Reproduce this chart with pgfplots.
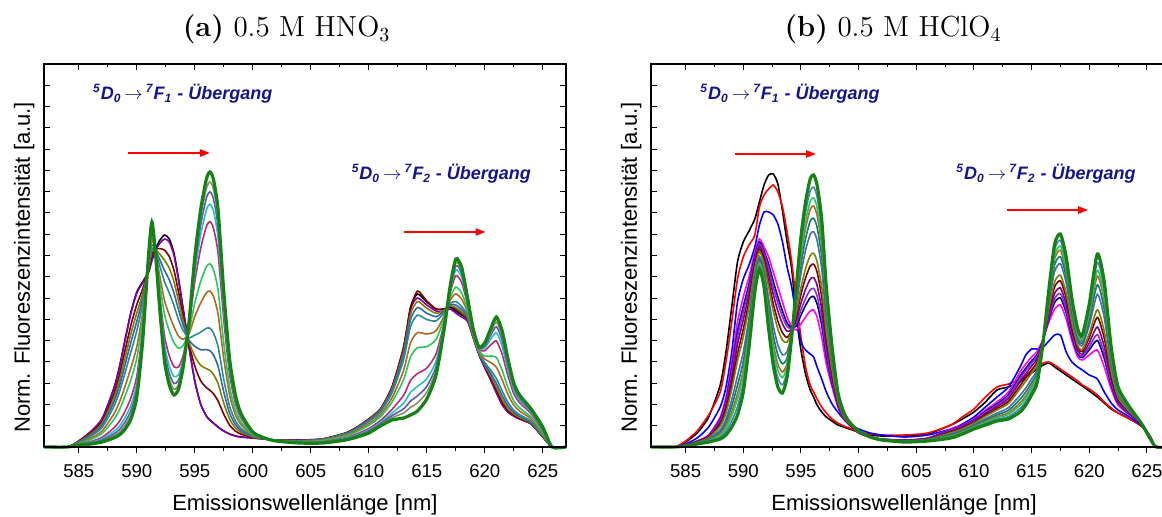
\documentclass[border=0pt]{standalone}
\usepackage{fontspec}
\usepackage{pgfplots}
\usepackage{pgfplotstable}
\pgfplotsset{compat=1.18}
\usetikzlibrary{arrows.meta}
\newfontfamily\arial{Liberation Sans}

\definecolor{wine}{RGB}{128,0,0}
\definecolor{olv}{RGB}{128,128,0}
\definecolor{steel}{RGB}{51,102,170}
\definecolor{tealc}{RGB}{40,140,150}
\definecolor{brownc}{RGB}{175,105,35}
\definecolor{lgreen}{RGB}{40,200,90}
\definecolor{mvr}{RGB}{190,40,120}
\definecolor{cyanc}{RGB}{40,190,200}
\definecolor{slate}{RGB}{90,90,180}
\definecolor{grayol}{RGB}{140,140,110}
\definecolor{fgreen}{RGB}{20,130,20}
\definecolor{lpurple}{RGB}{128,0,170}
\definecolor{rred}{RGB}{255,0,0}
\definecolor{rblue}{RGB}{0,0,255}
\definecolor{rmag}{RGB}{255,0,255}
\definecolor{rnavy}{RGB}{0,0,128}
\definecolor{rviolet}{RGB}{138,43,226}
\definecolor{rpurple}{RGB}{128,0,128}
\definecolor{rsteel}{RGB}{70,110,170}
\definecolor{rteal}{RGB}{0,128,128}
\definecolor{rslate}{RGB}{70,130,180}
\definecolor{annot}{RGB}{20,20,140}

% left panel: x, initial (A), purple, mixtures ..., final (B)
\pgfplotstableread{
x A P r o s t b g m c v y B
582 0 0 0 0 0 0 0 0 0 0 0 0 0
584 0 0 0 0 0 0 0 0 0 0 0 0 0
585 6 6 5.5 5.2 4.9 4.5 3.9 3.5 2.8 2.5 2.3 2.2 2
586 15 15 13.6 12.6 11.6 10.6 8.8 7.4 5.4 4.6 4.0 3.5 3
587 28 28 25.2 23.4 21.6 19.5 16.0 13.5 9.6 8.0 6.8 5.9 5
588 58 57 52.1 48.2 44.3 39.9 32.5 27.1 18.8 15.4 12.9 11.0 9
588.5 80 79 71.8 66.4 61.0 54.8 44.6 37.2 25.6 20.8 17.4 14.7 12
589 108 107 97.2 90 82.8 74.7 61.2 51.3 36 29.7 25.2 21.6 18
589.5 135 134 122.2 113.6 105.0 95.4 79.4 67.6 49.4 41.9 36.6 32.3 28
590 155 154 142.4 134 125.6 116.2 100.4 88.9 71 63.7 58.4 54.2 50
590.5 165 164 157.8 153 148.2 142.8 133.8 127.2 117 112.8 109.8 107.4 105
591 175 174 176.8 178 179.2 180.6 182.8 184.5 187 188.1 188.8 189.4 190
591.3 188 186 192.4 195.4 198.4 201.7 207.2 211.3 217.6 220.2 222.0 223.5 225
591.6 198 196 197.6 197.4 197.2 196.9 196.4 196.1 195.6 195.4 195.2 195.1 195
592 207 204 198.4 192.6 186.8 180.4 169.6 161.6 149.4 144.4 140.8 137.9 135
592.4 212 208 196.8 186.6 176.4 165.0 146.0 132.0 110.4 101.5 95.2 90.1 85
592.8 208 205 190.5 178.8 167.1 154.0 132.1 116.0 91.2 81.0 73.7 67.8 62
593.2 194 192 177.0 165.6 154.2 141.5 120.2 104.5 80.4 70.5 63.4 57.7 52
593.6 168 167 154.8 146 137.2 127.3 110.8 98.7 80 72.3 66.8 62.4 58
594 138 137 131.0 126.4 121.8 116.5 107.8 101.5 91.6 87.5 84.6 82.3 80
594.5 100 100 103 105 107 109.3 113 115.8 120 121.8 123 124 125
595 66 66 80.9 90.8 100.7 111.9 130.5 144.1 165.2 173.9 180.1 185.0 190
595.5 43 43 66.3 81.8 97.3 114.8 143.9 165.2 198.2 211.8 221.5 229.2 237
596 31 31 59.4 78.4 97.4 118.7 154.2 180.3 220.6 237.2 249.0 258.5 268
596.3 27 27 56.8 76.6 96.4 118.8 156.0 183.2 225.4 242.8 255.2 265.1 275
596.6 24 24 53.3 72.8 92.3 114.3 150.9 177.7 219.2 236.3 248.5 258.2 268
597 20 20 46.2 63.6 81.0 100.7 133.4 157.3 194.4 209.7 220.6 229.3 238
597.5 16 16 32.7 43.8 54.9 67.4 88.3 103.6 127.2 136.9 143.9 149.4 155
598 13 13 22 28 34 40.8 52 60.3 73 78.3 82 85 88
598.5 11 11 15.9 19.2 22.5 26.2 32.3 36.8 43.8 46.7 48.7 50.4 52
599 10 10 12.8 14.6 16.4 18.5 22.0 24.5 28.4 30.0 31.2 32.1 33
600 9 9 9.7 10.2 10.7 11.2 12.1 12.8 13.8 14.2 14.5 14.8 15
601 8 8 8.1 8.2 8.3 8.4 8.5 8.6 8.8 8.9 8.9 9 9
602 7 7 6.9 6.8 6.7 6.6 6.5 6.4 6.2 6.1 6.1 6.0 6
604 7 7 6.6 6.4 6.2 5.9 5.4 5.1 4.6 4.4 4.2 4.1 4
606 8 8 7.9 7.7 7.5 7.3 6.7 6.2 5.3 4.8 4.5 4.3 4
608 14 14 13.8 13.5 13.2 12.7 11.7 10.8 9.2 8.5 7.9 7.5 7
609 20 20 19.7 19.4 18.9 18.2 16.7 15.4 13.2 12.1 11.3 10.7 10
610 28 28 27.6 27.1 26.4 25.5 23.4 21.6 18.5 16.9 15.8 15.0 14
611 38 38 37.5 36.9 36.0 34.9 32.4 30.2 26.4 24.6 23.2 22.2 21
612 60 60 59.0 57.9 56.2 54.1 49.1 44.8 37.6 33.9 31.3 29.3 27
613 100 99 97.9 95.4 91.8 87.2 76.6 67.3 51.7 43.9 38.2 34.0 29
613.6 140 138 138 133.0 127.6 120.6 104.4 90.3 66.6 54.7 46.0 39.6 32
614.2 153 149 156 145.4 139.5 131.9 114.4 99.2 73.4 60.6 51.2 44.2 36
615 145 142 146 138.7 133.8 127.5 113.0 100.4 79.0 68.4 60.6 54.8 48
615.8 138 136 138 133.7 130.4 126.1 116.2 107.6 93.1 85.9 80.6 76.6 72
616.5 138 136 138 136.7 135.7 134.4 131.4 128.8 124.4 122.2 120.6 119.4 118
617 140 138 141 141.3 142.3 143.6 146.6 149.2 153.6 155.8 157.4 158.6 160
617.5 136 134 138 139.4 142.0 145.4 153.2 159.9 171.4 177.1 181.2 184.4 188
618 132 130 133.4 135.1 137.5 140.6 147.8 154.1 164.6 169.9 173.8 176.6 180
618.5 128 126 128.7 129.4 130.5 132.0 135.3 138.1 143.0 145.4 147.1 148.5 150
619 110 109 110.2 110.5 110.9 111.4 112.6 113.7 115.4 116.3 117.0 117.4 118
619.5 93 92 93.2 93.5 93.8 94.3 95.3 96.2 97.8 98.5 99.1 99.5 100
620 80 79 80.7 81.6 82.8 84.3 87.9 91.0 96.3 99.0 100.9 102.3 104
620.5 68 67 69.5 71.3 73.8 77.0 84.5 91.0 102.0 107.5 111.5 114.5 118
621 55 54 57.3 59.9 63.6 68.5 79.8 89.5 106.0 114.3 120.3 124.8 130
621.5 43 42 45.2 47.7 51.4 56.1 67.1 76.6 92.6 100.7 106.5 110.9 116
622 35 35 36.6 38.4 41.1 44.5 52.5 59.4 71.0 76.9 81.1 84.3 88
622.5 31 31 32.0 33.1 34.8 36.9 41.9 46.2 53.4 57.1 59.7 61.7 64
623 28 28 28.7 29.6 30.8 32.3 35.9 39.0 44.3 47.0 48.9 50.3 52
624 23 23 23.5 24.0 24.7 25.7 28.0 29.9 33.2 34.9 36.1 37.0 38
625 10 10 10.3 10.7 11.2 11.8 13.3 14.6 16.8 17.9 18.7 19.3 20
625.8 0 0 0 0 0 0 0 0 0 0 0 0 0
627 0 0 0 0 0 0 0 0 0 0 0 0 0
}\tableL

% right panel
\pgfplotstableread{
x K R Bl M n vi p dr ol sb te br lg sl G
582 0 0 0 0 0 0 0 0 0 0 0 0 0 0 0
584 0 0 0 0 0 0 0 0 0 0 0 0 0 0 0
585 5 6 3 2 1.9 1.8 1.8 1.7 1.6 1.4 1.3 1.2 1.2 1.1 1
586 14 16 9 6 5.7 5.5 5.3 5.0 4.7 4.3 4.0 3.7 3.5 3.3 3
587 30 32 20 12 11.3 10.9 10.3 9.6 9.1 7.9 7.2 6.6 6.2 5.6 5
588 62 55 40 30 27.8 26.5 24.7 22.5 20.8 17.2 15.0 13.1 11.7 10.0 8
588.5 95 85 60 50 46.2 43.9 40.9 37.1 34.0 28.0 24.2 20.7 18.5 15.4 12
589 140 125 95 85 78.5 74.6 69.4 62.9 57.7 47.3 40.8 35.0 31.1 25.9 20
589.5 185 168 145 125 115.7 110.1 102.7 93.4 85.9 71.1 61.8 53.4 47.8 40.4 32
590 205 190 168 150 140.5 134.8 127.2 117.7 110.1 94.9 85.4 76.9 71.2 63.6 55
590.5 216 202 182 170 163 158.8 153.2 146.2 140.6 129.4 122.4 116.1 111.9 106.3 100
591 228 212 200 195 191 188.6 185.4 181.4 178.2 171.8 167.8 164.2 161.8 158.6 155
591.4 245 240 222 208 205 203.2 200.8 197.8 195.4 190.6 187.6 184.9 183.1 180.7 178
591.8 262 252 235 200 196 193.6 190.4 186.4 183.2 176.8 172.8 169.2 166.8 163.6 160
592.2 272 258 235 190 182.8 178.5 172.7 165.5 159.8 148.2 141.0 134.6 130.2 124.5 118
592.6 273 262 232 175 165.7 160.1 152.7 143.4 135.9 121.1 111.8 103.4 97.8 90.4 82
593 263 255 223 160 150 144 136 126 118 102 92 83 77 69 60
593.4 236 240 205 145 135.9 130.4 123.2 114.1 106.8 92.2 83.1 74.9 69.5 62.2 54
593.8 205 215 180 130 124 120.4 115.6 109.6 104.8 95.2 89.2 83.8 80.2 75.4 70
594.2 178 185 160 120 119 118.4 117.6 116.6 115.8 114.2 113.2 112.3 111.7 110.9 110
594.6 130 145 130 117 121.3 123.9 127.3 131.6 135.1 141.9 146.2 150.1 152.7 156.1 160
595 97 110 105 123 131.7 136.9 143.9 152.6 159.5 173.5 182.2 190.0 195.2 202.2 210
595.4 73 80 97 130 141.5 148.4 157.6 169.1 178.3 196.7 208.2 218.6 225.5 234.7 245
595.8 57 62 93 136 149.2 157.1 167.7 180.9 191.4 212.6 225.8 237.6 245.6 256.1 268
596.1 50 55 90 137 150.5 158.6 169.4 182.9 193.7 215.3 228.8 241.0 249.1 259.9 272
596.4 42 48 80 130 143.2 151.1 161.7 174.9 185.4 206.6 219.8 231.6 239.6 250.1 262
596.8 35 40 68 110 121.8 128.9 138.3 150.1 159.6 178.4 190.2 200.9 207.9 217.4 228
597.2 30 34 55 83 90.7 95.3 101.5 109.2 115.3 127.7 135.4 142.3 146.9 153.1 160
597.7 26 28 43 60 64 66.4 69.6 73.6 76.8 83.2 87.2 90.8 93.2 96.4 100
598.2 22 24 35 40 41.5 42.4 43.6 45.1 46.3 48.7 50.2 51.6 52.5 53.7 55
598.7 20 21 28 28 28.7 29.1 29.7 30.4 30.9 32.1 32.8 33.4 33.8 34.4 35
599.2 18 19 23 22 22.3 22.5 22.7 23.0 23.3 23.7 24.0 24.3 24.5 24.7 25
600 15 15 18 14 14.2 14.3 14.5 14.7 14.8 15.2 15.4 15.5 15.7 15.8 16
601 12 13 14 10 10 10 10 10 10 10 10 10 10 10 10
602 11 12 12 8 7.9 7.8 7.8 7.7 7.6 7.4 7.3 7.2 7.2 7.1 7
604 11 12 10 7 6.8 6.7 6.5 6.3 6.2 5.8 5.6 5.5 5.3 5.2 5
606 13 14 12 9 8.7 8.5 8.3 8.0 7.7 7.3 7.0 6.7 6.5 6.3 6
608 22 22 18 18 17.1 16.6 15.8 14.9 14.2 12.8 11.9 11.1 10.5 9.8 9
609 28 30 23 22 21.1 20.6 19.8 18.9 18.2 16.8 15.9 15.1 14.5 13.8 13
610 35 38 30 28 27 26.4 25.6 24.6 23.8 22.2 21.2 20.3 19.7 18.9 18
611 45 50 40 37 35.5 34.6 33.4 31.9 30.7 28.3 26.8 25.5 24.6 23.4 22
612 57 60 50 45 43.1 42.0 40.4 38.5 37.0 34.0 32.1 30.4 29.2 27.7 26
613 60 63 60 55 52.3 50.7 48.5 45.8 43.7 39.3 36.6 34.2 32.6 30.4 28
614 65 68 80 75 71 68.6 65.4 61.4 58.2 51.8 47.8 44.2 41.8 38.6 35
614.5 70 72 92 83 78.9 76.4 73.2 69.1 65.8 59.2 55.1 51.4 49.0 45.7 42
615 74 76 98 90 86.2 83.9 80.9 77.1 74.0 68.0 64.2 60.7 58.5 55.4 52
615.5 78 80 98 96 92.9 91.0 88.6 85.5 83.0 78.0 74.9 72.1 70.3 67.8 65
616 82 84 100 108 107.7 107.5 107.3 107.0 106.7 106.3 106.0 105.7 105.5 105.3 105
616.5 84 85 106 125 128.3 130.3 132.9 136.2 138.9 144.1 147.4 150.4 152.4 155.0 158
617 80 82 112 138 144.5 148.4 153.6 160.1 165.3 175.7 182.2 188.1 191.9 197.2 203
617.5 76 78 112 142 149.1 153.4 159.0 166.1 171.8 183.2 190.3 196.7 200.9 206.6 213
618 72 74 95 128 134.2 137.9 142.9 149.1 154.0 164.0 170.2 175.7 179.5 184.4 190
618.5 68 70 85 106 110.2 112.7 116.1 120.3 123.6 130.4 134.6 138.3 140.9 144.2 148
619 64 66 80 90 92.8 94.5 96.7 99.5 101.8 106.2 109.0 111.6 113.2 115.5 118
619.4 61 62 77 87 89.5 91.0 93.0 95.5 97.5 101.5 104.0 106.3 107.8 109.8 112
620 56 58 72 92 97.1 100.2 104.2 109.3 113.4 121.6 126.7 131.3 134.3 138.4 143
620.7 50 52 68 97 106.6 112.4 120.0 129.6 137.3 152.7 162.3 170.9 176.7 184.4 193
621.3 44 45 55 80 88.5 93.6 100.4 108.9 115.7 129.3 137.8 145.5 150.6 157.4 165
621.9 38 39 44 58 62.2 64.7 68.1 72.3 75.6 82.4 86.6 90.3 92.9 96.2 100
622.5 34 34 37 42 43.8 44.9 46.3 48.1 49.6 52.4 54.2 55.9 56.9 58.4 60
623.5 28 28 30 32 32.8 33.3 33.9 34.7 35.4 36.6 37.4 38.2 38.6 39.3 40
624.5 21 21 22 24 24 24 24 24 24 24 24 24 24 24 24
625.3 10 10 10 10 9.8 9.7 9.5 9.3 9.2 8.8 8.6 8.5 8.3 8.2 8
625.8 0 0 0 0 0 0 0 0 0 0 0 0 0 0 0
627 0 0 0 0 0 0 0 0 0 0 0 0 0 0 0
}\tableR

\pgfplotsset{
  mainax/.style={
    anchor=south west, scale only axis, height=191.5pt,
    xmin=582, xmax=627, ymin=0, ymax=383, clip=false,
    axis line style={line width=0.75pt},
    tick align=inside, xtick={585,590,...,625}, minor x tick num=1,
    xtick pos=right, xticklabels={},
    ytick={0,21.2777,...,383}, yticklabels={}, ytick pos=both,
    major tick length=2.8pt, minor tick length=1.6pt,
    every tick/.style={black, line width=0.5pt},
    ylabel={Norm. Fluoreszenzintensität [a.u.]},
    ylabel style={font=\arial\fontsize{11}{13}\selectfont,
      at={(axis description cs:-0.027,0.469)}, anchor=base},
  },
  overax/.style={
    anchor=south west, scale only axis, height=191.5pt,
    xmin=582, xmax=627, ymin=0, ymax=383,
    axis x line*=bottom, axis y line=none,
    axis line style={line width=0.75pt},
    tick align=outside, xtick={585,590,...,625}, minor x tick num=1,
    major tick length=3pt, minor tick length=1.8pt,
    every tick/.style={black, line width=0.5pt},
    /pgf/number format/assume math mode=true,
    xticklabel style={font=\arial\fontsize{9.3}{11}\selectfont, yshift=-2pt},
    xlabel={Emissionswellenlänge [nm]},
    xlabel style={font=\arial\fontsize{11}{13}\selectfont,
      at={(axis description cs:0.5,0)}, anchor=base, yshift=-31.5pt},
  },
  cv/.style={line width=0.8pt, smooth, tension=0.4},
}
\tikzset{
  annotf/.style={anchor=base west, inner sep=0pt, text=annot,
    font=\arial\bfseries\itshape\fontsize{9}{11}\selectfont},
  redarrow/.style={draw=rred, line width=0.9pt, -{Triangle[length=5pt,width=3.6pt]}},
}
\newcommand{\trans}[1]{\textsuperscript{5}D\textsubscript{0}\,$\rightarrow$\,\textsuperscript{7}F\textsubscript{#1} - Übergang}

\begin{document}
\begin{tikzpicture}
% ---------- panel (a)
\begin{axis}[mainax, at={(22pt,34.5pt)}, width=261pt]
\addplot[cv, draw=black] table[x=x,y=A]{\tableL};
\addplot[cv, draw=lpurple] table[x=x,y=P]{\tableL};
\addplot[cv, draw=wine] table[x=x,y=r]{\tableL};
\addplot[cv, draw=olv] table[x=x,y=o]{\tableL};
\addplot[cv, draw=steel] table[x=x,y=s]{\tableL};
\addplot[cv, draw=tealc] table[x=x,y=t]{\tableL};
\addplot[cv, draw=brownc] table[x=x,y=b]{\tableL};
\addplot[cv, draw=lgreen] table[x=x,y=g]{\tableL};
\addplot[cv, draw=mvr] table[x=x,y=m]{\tableL};
\addplot[cv, draw=cyanc] table[x=x,y=c]{\tableL};
\addplot[cv, draw=slate] table[x=x,y=v]{\tableL};
\addplot[cv, draw=grayol] table[x=x,y=y]{\tableL};
\addplot[cv, draw=fgreen, line width=1.6pt] table[x=x,y=B]{\tableL};
\node[annotf] at (axis cs:586.2,347) {\trans{1}};
\node[annotf] at (axis cs:608.5,267) {\trans{2}};
\draw[redarrow] (axis cs:589.27,294) -- (axis cs:596.31,294);
\draw[redarrow] (axis cs:613.05,215) -- (axis cs:620.07,215);
\end{axis}
\begin{axis}[overax, at={(22pt,34.5pt)}, width=261pt]
\end{axis}
% ---------- panel (b)
\begin{axis}[mainax, at={(325.5pt,34.5pt)}, width=259.5pt]
\addplot[cv, draw=black] table[x=x,y=K]{\tableR};
\addplot[cv, draw=rred] table[x=x,y=R]{\tableR};
\addplot[cv, draw=rblue] table[x=x,y=Bl]{\tableR};
\addplot[cv, draw=rmag] table[x=x,y=M]{\tableR};
\addplot[cv, draw=rnavy] table[x=x,y=n]{\tableR};
\addplot[cv, draw=rviolet] table[x=x,y=vi]{\tableR};
\addplot[cv, draw=rpurple] table[x=x,y=p]{\tableR};
\addplot[cv, draw=wine] table[x=x,y=dr]{\tableR};
\addplot[cv, draw=olv] table[x=x,y=ol]{\tableR};
\addplot[cv, draw=rsteel] table[x=x,y=sb]{\tableR};
\addplot[cv, draw=rteal] table[x=x,y=te]{\tableR};
\addplot[cv, draw=brownc] table[x=x,y=br]{\tableR};
\addplot[cv, draw=lgreen] table[x=x,y=lg]{\tableR};
\addplot[cv, draw=rslate] table[x=x,y=sl]{\tableR};
\addplot[cv, draw=fgreen, line width=1.6pt] table[x=x,y=G]{\tableR};
\node[annotf] at (axis cs:586.25,347) {\trans{1}};
\node[annotf] at (axis cs:608.45,267) {\trans{2}};
\draw[redarrow] (axis cs:589.29,293) -- (axis cs:596.31,293);
\draw[redarrow] (axis cs:612.88,237) -- (axis cs:619.9,237);
\end{axis}
\begin{axis}[overax, at={(325.5pt,34.5pt)}, width=259.5pt,
  xlabel style={at={(axis description cs:0.4875,0)}}]
\end{axis}
% ---------- titles
\node[anchor=base, font=\fontsize{14.5}{17}\selectfont] at (143.3pt,239.6pt) {\textbf{(a)} 0.5 M HNO$_3$};
\node[anchor=base, font=\fontsize{14.5}{17}\selectfont] at (446.5pt,239.6pt) {\textbf{(b)} 0.5 M HClO$_4$};
\pgfresetboundingbox
\useasboundingbox (0,0) rectangle (581pt,258pt);
\end{tikzpicture}
\end{document}
